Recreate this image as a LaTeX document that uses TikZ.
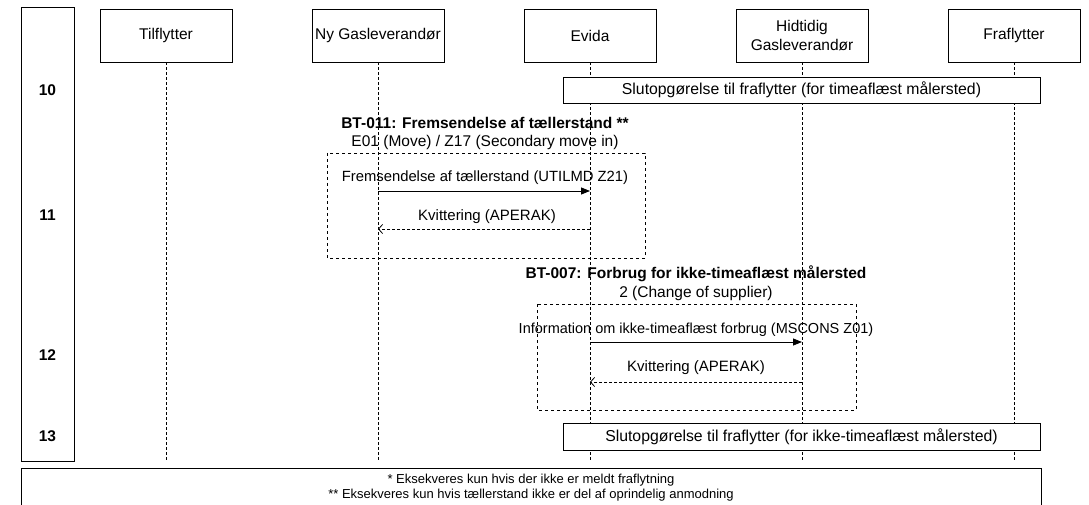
\documentclass[tikz,border=0pt]{standalone}
\usepackage{fontspec}
\setmainfont{Liberation Sans}
\usetikzlibrary{arrows.meta}
\newcommand{\fsz}[2]{\fontsize{#1}{#2}\selectfont}

\begin{document}
\begin{tikzpicture}[x=1pt,y=-1pt,line width=0.8pt,
 actor/.style={draw,fill=white,minimum width=132pt,minimum height=53pt,inner sep=1pt,align=center,font=\fsz{15.5}{19}},
 life/.style={dash pattern=on 3pt off 2pt},
 frm/.style={dash pattern=on 3pt off 3pt},
 slut/.style={draw,fill=white,minimum width=477pt,minimum height=26pt,font=\fsz{15.8}{18}},
 msg/.style={font=\fsz{15}{18}},
 ttl/.style={font=\bfseries\fsz{15.5}{18}},
 call/.style={-{Triangle[length=9pt,width=7pt]}},
 ret/.style={dash pattern=on 3pt off 2pt,-{Straight Barb[length=4pt,width=9pt]}}]
\useasboundingbox (0,0) rectangle (1089,505);
% step column
\node[draw,minimum width=53pt,minimum height=454pt] (col) at (47.5,234) {};
\foreach \n/\y in {10/90,11/215,12/355,13/436}
  \node[font=\bfseries\fsz{15.5}{18}] (n\n) at (47.5,\y) {\n};
% actors and lifelines
\foreach \a/\x/\t in {til/166/Tilflytter,ny/378/Ny Gasleverandør,ev/590/Evida,hid/802/{Hidtidig\\Gasleverandør},fra/1014/Fraflytter} {
  \node[actor] (\a) at (\x,35.5) {\t};
  \coordinate (\a e) at (\x,462);
  \draw[life] (\a) -- (\a e);
  }
\node[slut] (s10) at (801.5,90) {Slutopgørelse til fraflytter (for timeaflæst målersted)};
\node[slut,minimum height=27pt] (s13) at (801.5,436.5) {Slutopgørelse til fraflytter (for ikke-timeaflæst målersted)};
% BT-011
\node[ttl] (t11) at (485,123) {BT-011: Fremsendelse af tællerstand **};
\node[msg,font=\fsz{15.5}{18}] (u11) at (485,142) {E01 (Move) / Z17 (Secondary move in)};
\draw[frm] (327,153) rectangle (645,258);
\coordinate (a1) at (378,191); \coordinate (b1) at (590,191);
\coordinate (a2) at (378,229); \coordinate (b2) at (590,229);
\draw[call] (a1) -- (b1);
\draw[ret] (b2) -- (a2);
\node[msg,font=\fsz{14.8}{18}] (l1) at (485,178) {Fremsendelse af tællerstand (UTILMD Z21)};
\node[msg] (l2) at (487,217) {Kvittering (APERAK)};
% BT-007
\node[ttl] (t12) at (696,274) {BT-007: Forbrug for ikke-timeaflæst målersted};
\node[msg,font=\fsz{15.5}{18}] (u12) at (696,293) {2 (Change of supplier)};
\draw[frm] (537,304) rectangle (856,410);
\coordinate (a3) at (590,342); \coordinate (b3) at (802,342);
\coordinate (a4) at (590,382); \coordinate (b4) at (802,382);
\draw[call] (a3) -- (b3);
\draw[ret] (b4) -- (a4);
\node[msg,font=\fsz{14.5}{18}] (l3) at (696,330) {Information om ikke-timeaflæst forbrug (MSCONS Z01)};
\node[msg] (l4) at (696,368) {Kvittering (APERAK)};
% footnotes
\draw (21,468) rectangle (1041,530);
\node[align=center,font=\fsz{13}{15.5}] (foot) at (531,487.5) {* Eksekveres kun hvis der ikke er meldt fraflytning\\** Eksekveres kun hvis tællerstand ikke er del af oprindelig anmodning};
\end{tikzpicture}
\end{document}
